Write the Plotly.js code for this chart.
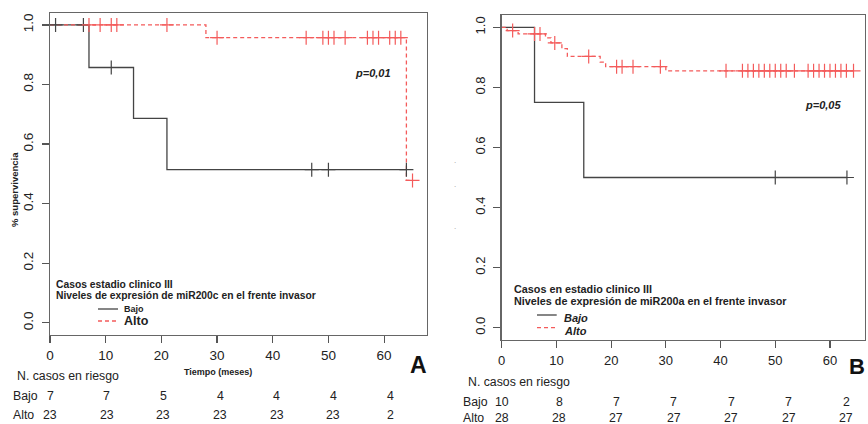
<!DOCTYPE html>
<html>
<head>
<meta charset="utf-8">
<script src="https://cdn.plot.ly/plotly-3.0.1.min.js"></script>
<style>html,body{margin:0;padding:0;background:#fff;}#chart{width:868px;height:424px;}</style>
</head>
<body>
<div id="chart"></div>
<script>
// ---------- DATA ----------
// Panel A (miR200c)
const timesBajoA = [0, 7, 15, 21, 64];
const survBajoA  = [1, 0.857, 0.686, 0.514, 0.514];
const censBajoA  = [1, 6, 11, 47, 50, 64];
const timesAltoA = [0, 28, 64, 65.1];
const survAltoA  = [1, 0.957, 0.478, 0.478];
const censAltoA  = [7, 9, 11, 12, 21, 30, 46, 49, 50, 51, 53, 57, 58, 59, 61, 62, 63, 65.1];
// Panel B (miR200a)
const timesBajoB = [0, 6, 15, 63.1];
const survBajoB  = [1, 0.75, 0.5, 0.5];
const censBajoB  = [50, 63.1];
const timesAltoB = [0, 1, 3, 8, 9, 11, 12, 18, 19, 30, 64.3];
const survAltoB  = [1, 0.989, 0.978, 0.965, 0.948, 0.929, 0.903, 0.884, 0.869, 0.855, 0.855];
const censAltoB  = [2, 6, 7, 9.7, 15.9, 21, 22, 24, 29, 41, 44, 45, 46, 47, 48, 49, 50, 51, 52, 53.5,
                    56, 57, 58, 59, 60, 61, 62, 63, 64.3];
// Risk tables
const riskTimes  = [0, 10, 20, 30, 40, 50, 60];
const riskBajoA  = [7, 7, 5, 4, 4, 4, 4];
const riskAltoA  = [23, 23, 23, 23, 23, 23, 2];
const riskBajoB  = [10, 8, 7, 7, 7, 7, 2];
const riskAltoB  = [28, 28, 27, 27, 27, 27, 27];
// Axis ticks
const xTicks = [0, 10, 20, 30, 40, 50, 60];
const yTicks = [0, 0.2, 0.4, 0.6, 0.8, 1.0];
const yTickText = ['0.0', '0.2', '0.4', '0.6', '0.8', '1.0'];

// ---------- HELPERS ----------
const W = 868, H = 424;
const px = x => x / W;
const py = y => 1 - y / H;
function stepAt(times, surv, t) {
  let v = surv[0];
  for (let i = 0; i < times.length; i++) { if (times[i] <= t) v = surv[i]; }
  return v;
}
const BLACK = '#444';
const RED = '#f45b5b';
const FONT = 'Liberation Sans, Arial, Helvetica, sans-serif';

function curve(times, surv, xa, ya, color, dash) {
  return {x: times, y: surv, xaxis: xa, yaxis: ya, mode: 'lines', hoverinfo: 'skip',
          line: {shape: 'hv', color: color, width: 1.3, dash: dash}};
}
function marks(cens, times, surv, xa, ya, color) {
  return {x: cens, y: cens.map(t => stepAt(times, surv, t)), xaxis: xa, yaxis: ya, mode: 'markers',
          hoverinfo: 'skip',
          marker: {symbol: 'cross-thin-open', size: 10, color: color, line: {color: color, width: 1.2}}};
}

const traces = [
  curve(timesBajoA, survBajoA, 'x', 'y', BLACK, 'solid'),
  curve(timesAltoA, survAltoA, 'x', 'y', RED, '4px,3px'),
  marks(censBajoA, timesBajoA, survBajoA, 'x', 'y', BLACK),
  marks(censAltoA, timesAltoA, survAltoA, 'x', 'y', RED),
  curve(timesBajoB, survBajoB, 'x2', 'y2', BLACK, 'solid'),
  curve(timesAltoB, survAltoB, 'x2', 'y2', RED, '4px,3px'),
  marks(censBajoB, timesBajoB, survBajoB, 'x2', 'y2', BLACK),
  marks(censAltoB, timesAltoB, survAltoB, 'x2', 'y2', RED),
];

function xAxis(domain, range, anchor, size, standoff) {
  return {domain: domain, range: range, anchor: anchor, tickvals: xTicks, ticks: 'outside', ticklen: 7,
          tickcolor: '#555', tickwidth: 1.2, showline: true, linecolor: '#666', linewidth: 1.3, mirror: true,
          showgrid: false, zeroline: false, tickfont: {size: size, color: '#222'}, ticklabelstandoff: standoff,
          fixedrange: true};
}
function yAxis(domain, range, anchor, size) {
  return {domain: domain, range: range, anchor: anchor, tickvals: yTicks, ticktext: yTickText, tickangle: -90,
          ticks: 'outside', ticklen: 7, tickcolor: '#555', tickwidth: 1.2, showline: true, linecolor: '#666',
          linewidth: 1.3, mirror: true, showgrid: false, zeroline: false, tickfont: {size: size, color: '#222'},
          ticklabelstandoff: 3, fixedrange: true};
}

const layout = {
  width: W, height: H, margin: {l: 0, r: 0, t: 0, b: 0}, showlegend: false,
  paper_bgcolor: '#fff', plot_bgcolor: 'rgba(0,0,0,0)', font: {family: FONT, color: '#222'},
  xaxis:  xAxis([px(50), px(427)], [0, 67.7], 'y', 13.5, 0),
  yaxis:  yAxis([py(335), py(13)], [-0.041, 1.040], 'x', 13.5),
  xaxis2: xAxis([px(501.7), px(865)], [0, 66.4], 'y2', 13, 1),
  yaxis2: yAxis([py(340), py(15)], [-0.041, 1.041], 'x2', 13),
  // hidden axes for the risk tables (slightly different scale, as in the original)
  xaxis3: {domain: [px(50), px(427)], range: [0, 66.5], anchor: 'y', overlaying: 'x', visible: false, fixedrange: true},
  xaxis4: {domain: [px(501.7), px(865)], range: [0, 63.3], anchor: 'y2', overlaying: 'x2', visible: false, fixedrange: true},
  annotations: [], shapes: []
};

const ann = layout.annotations, shp = layout.shapes;
function txt(text, x, y, size, opts) {
  ann.push(Object.assign({text: text, x: px(x), y: py(y), xref: 'paper', yref: 'paper', showarrow: false,
    xanchor: 'left', yanchor: 'middle', font: {size: size, color: '#222', family: FONT}}, opts || {}));
}
function seg(x0, x1, y, color, dash) {
  shp.push({type: 'line', xref: 'paper', yref: 'paper', x0: px(x0), x1: px(x1), y0: py(y), y1: py(y),
            line: {color: color, width: 1.3, dash: dash}});
}

// Panel A texts
txt('<b><i>p=0,01</i></b>', 373, 72.7, 11, {xanchor: 'center'});
txt('<b>% supervivencia</b>', 14, 190, 9.5, {xanchor: 'center', textangle: -90});
txt('<b>Tiempo (meses)</b>', 217.5, 372, 9, {xanchor: 'center'});
txt('<b>A</b>', 418, 365, 23, {xanchor: 'center', font: {size: 23, color: '#111', family: FONT}});
txt('<b>Casos estadio clinico III</b>', 54, 284, 10.3);
txt('<b>Niveles de expresión de miR200c en el frente invasor</b>', 54, 295.5, 10.3);
seg(98, 118, 309, BLACK, 'solid');
txt('<b>Bajo</b>', 122, 308.5, 9);
seg(98, 118, 321, RED, '4px,3px');
txt('<b>Alto</b>', 122, 320.5, 12.5);
txt('N. casos en riesgo', 15, 376, 12.3);
txt('Bajo', 11, 396, 12.3);
txt('Alto', 11, 415, 12.3);

// Panel B texts
txt('<b><i>p=0,05</i></b>', 823, 105, 11, {xanchor: 'center'});
txt('<b>B</b>', 857, 366.7, 22, {xanchor: 'center', font: {size: 22, color: '#111', family: FONT}});
txt('<b>Casos en estadio clinico III</b>', 512, 289.3, 10.8);
txt('<b>Niveles de expresión de miR200a en el frente invasor</b>', 512, 300.7, 10.8);
seg(537, 556.7, 315, BLACK, 'solid');
txt('<b><i>Bajo</i></b>', 561.5, 318, 11);
seg(537, 556.7, 327.7, RED, '4px,3px');
txt('<b><i>Alto</i></b>', 561.5, 330.7, 11);
txt('N. casos en riesgo', 466, 381.7, 12.3);
txt('Bajo', 461, 401.7, 12.3);
txt('Alto', 461, 418.3, 12.3);
// faint leftovers of a cropped axis title in panel B
[163, 187, 229].forEach(y => txt('.', 455, y - 3, 8, {xanchor: 'center', font: {size: 8, color: '#999', family: FONT}}));

// Risk table numbers
function riskRow(vals, xref, y) {
  vals.forEach((v, i) => ann.push({text: String(v), x: riskTimes[i], xref: xref, y: py(y), yref: 'paper',
    showarrow: false, xanchor: 'center', yanchor: 'middle', font: {size: 12.3, color: '#222', family: FONT}}));
}
riskRow(riskBajoA, 'x3', 396);
riskRow(riskAltoA, 'x3', 415);
riskRow(riskBajoB, 'x4', 401.7);
riskRow(riskAltoB, 'x4', 418.3);

Plotly.newPlot('chart', traces, layout, {staticPlot: true, displayModeBar: false});
</script>
</body>
</html>
